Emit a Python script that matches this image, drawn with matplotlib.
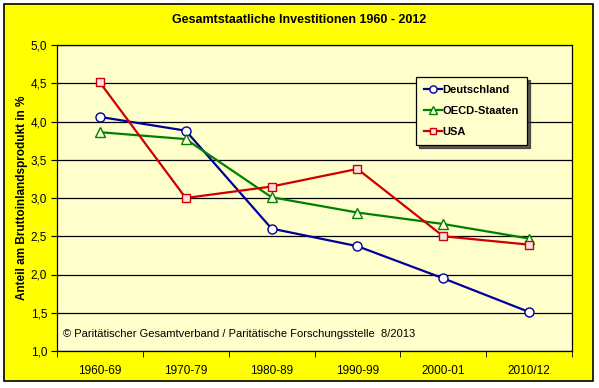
import numpy as np
import matplotlib
matplotlib.use("Agg")
from matplotlib import pyplot as plt
from matplotlib.patches import Rectangle

# Data
periods = ["1960-69", "1970-79", "1980-89", "1990-99", "2000-01", "2010/12"]
deutschland = [4.06, 3.88, 2.60, 2.37, 1.95, 1.51]
oecd = [3.86, 3.77, 3.01, 2.81, 2.66, 2.47]
usa = [4.51, 3.00, 3.15, 3.38, 2.50, 2.39]
y_ticks = [1.0, 1.5, 2.0, 2.5, 3.0, 3.5, 4.0, 4.5, 5.0]

plt.rcParams['font.family'] = ['Liberation Sans', 'DejaVu Sans']

W, H = 599, 388
fig = plt.figure(figsize=(W / 100, H / 100), dpi=100)
fig.patch.set_facecolor('white')

# yellow chart area with black frame
frame = Rectangle((4 / W, 1 - 381 / H), 589 / W, 377 / H,
                  transform=fig.transFigure, facecolor='#FFFF00',
                  edgecolor='black', linewidth=1.2, zorder=-5)
fig.add_artist(frame)

ax = fig.add_axes([57 / W, 1 - 351 / H, (572 - 57) / W, (351 - 45) / H])
ax.set_zorder(1)
ax.set_facecolor('#FFFFCC')

x = np.arange(len(periods))
ax.plot(x, deutschland, color='#000099', lw=1.6, marker='o', ms=6.5,
        mfc='white', mec='#000099', mew=1, label='Deutschland', zorder=3)
ax.plot(x, oecd, color='#008000', lw=1.6, marker='^', ms=6.5,
        mfc='#FFFFE0', mec='#008000', mew=1, label='OECD-Staaten', zorder=3)
ax.plot(x, usa, color='#CC0000', lw=1.6, marker='s', ms=6,
        mfc='#FFE0E0', mec='#CC0000', mew=1, label='USA', zorder=3)

ax.set_xlim(-0.5, len(periods) - 0.5)
ax.set_ylim(1.0, 5.0)
ax.set_yticks(y_ticks)
ax.set_yticklabels([f"{v:.1f}".replace('.', ',') for v in y_ticks], fontsize=8.5)
ax.yaxis.grid(True, color='black', linewidth=0.9)
ax.set_axisbelow(True)

ax.set_xticks(x)
ax.set_xticklabels(periods, fontsize=8.5)
ax.set_xticks(np.arange(-0.5, len(periods)), minor=True)
ax.tick_params(axis='x', which='major', length=0, pad=10)
ax.tick_params(axis='x', which='minor', length=4, direction='out')
ax.tick_params(axis='y', length=4, direction='out', pad=3)

for s in ax.spines.values():
    s.set_linewidth(0.9)
    s.set_color('black')

ax.set_ylabel("Anteil am Bruttoinlandsprodukt in %", fontsize=8.5,
              fontweight='bold', labelpad=2)
fig.text(0.5, 1 - 20 / H, "Gesamtstaatliche Investitionen 1960 - 2012",
         ha='center', va='center', fontsize=9, fontweight='bold')
ax.text(0.012, 0.04, "\u00a9 Paritätischer Gesamtverband / Paritätische Forschungsstelle  8/2013",
        transform=ax.transAxes, fontsize=8, ha='left', va='bottom')

leg = ax.legend(loc='upper left', bbox_to_anchor=((416 - 57) / 515, 1 - (77 - 45) / 306),
                frameon=True, fancybox=False, shadow={'color': '#333333', 'alpha': 0.8},
                prop={'weight': 'bold', 'size': 8}, handlelength=1.6,
                handletextpad=0.1, borderpad=0.7, labelspacing=1.0,
                markerscale=0.8, borderaxespad=0)
leg.get_frame().set_facecolor('#FFFFCC')
leg.get_frame().set_edgecolor('black')
leg.get_frame().set_linewidth(0.9)

fig.savefig("out.png", dpi=100)
